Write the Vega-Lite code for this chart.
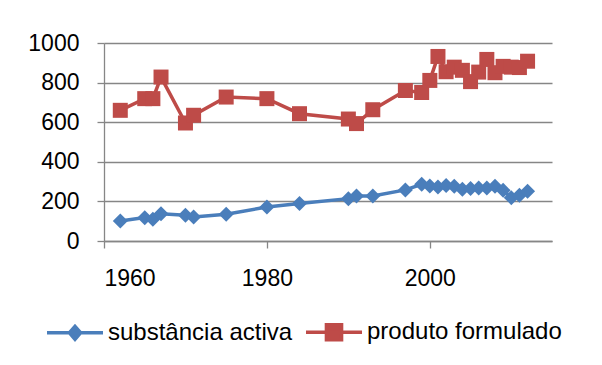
{
  "$schema": "https://vega.github.io/schema/vega-lite/v6.json",
  "autosize": "none",
  "width": 448,
  "height": 198,
  "padding": {"left": 104, "top": 43, "right": 50, "bottom": 124},
  "background": "white",
  "config": {
    "view": {"stroke": null},
    "font": "Liberation Sans",
    "axis": {
      "labelFont": "Liberation Sans",
      "labelFontSize": 23,
      "labelColor": "#000000",
      "domainColor": "#868686",
      "domainWidth": 1.3,
      "tickColor": "#868686",
      "tickWidth": 1.3,
      "tickSize": 7,
      "gridColor": "#868686",
      "gridWidth": 1.3,
      "title": null
    }
  },
  "data": {
    "values": [
      {"year": 1962, "series": "substância activa", "value": 101},
      {"year": 1965, "series": "substância activa", "value": 118},
      {"year": 1966, "series": "substância activa", "value": 110},
      {"year": 1967, "series": "substância activa", "value": 138},
      {"year": 1970, "series": "substância activa", "value": 130},
      {"year": 1971, "series": "substância activa", "value": 121},
      {"year": 1975, "series": "substância activa", "value": 135},
      {"year": 1980, "series": "substância activa", "value": 172},
      {"year": 1984, "series": "substância activa", "value": 189},
      {"year": 1990, "series": "substância activa", "value": 214},
      {"year": 1991, "series": "substância activa", "value": 227},
      {"year": 1993, "series": "substância activa", "value": 227},
      {"year": 1997, "series": "substância activa", "value": 258},
      {"year": 1999, "series": "substância activa", "value": 286},
      {"year": 2000, "series": "substância activa", "value": 278},
      {"year": 2001, "series": "substância activa", "value": 273},
      {"year": 2002, "series": "substância activa", "value": 280},
      {"year": 2003, "series": "substância activa", "value": 276},
      {"year": 2004, "series": "substância activa", "value": 261},
      {"year": 2005, "series": "substância activa", "value": 265},
      {"year": 2006, "series": "substância activa", "value": 268},
      {"year": 2007, "series": "substância activa", "value": 268},
      {"year": 2008, "series": "substância activa", "value": 277},
      {"year": 2009, "series": "substância activa", "value": 256},
      {"year": 2010, "series": "substância activa", "value": 219},
      {"year": 2011, "series": "substância activa", "value": 231},
      {"year": 2012, "series": "substância activa", "value": 251},
      {"year": 1962, "series": "produto formulado", "value": 660},
      {"year": 1965, "series": "produto formulado", "value": 719},
      {"year": 1966, "series": "produto formulado", "value": 719},
      {"year": 1967, "series": "produto formulado", "value": 828},
      {"year": 1970, "series": "produto formulado", "value": 596},
      {"year": 1971, "series": "produto formulado", "value": 635},
      {"year": 1975, "series": "produto formulado", "value": 727},
      {"year": 1980, "series": "produto formulado", "value": 719},
      {"year": 1984, "series": "produto formulado", "value": 643},
      {"year": 1990, "series": "produto formulado", "value": 616},
      {"year": 1991, "series": "produto formulado", "value": 593},
      {"year": 1993, "series": "produto formulado", "value": 663},
      {"year": 1997, "series": "produto formulado", "value": 760},
      {"year": 1999, "series": "produto formulado", "value": 750},
      {"year": 2000, "series": "produto formulado", "value": 811},
      {"year": 2001, "series": "produto formulado", "value": 932},
      {"year": 2002, "series": "produto formulado", "value": 855},
      {"year": 2003, "series": "produto formulado", "value": 878},
      {"year": 2004, "series": "produto formulado", "value": 862},
      {"year": 2005, "series": "produto formulado", "value": 805},
      {"year": 2006, "series": "produto formulado", "value": 853},
      {"year": 2007, "series": "produto formulado", "value": 917},
      {"year": 2008, "series": "produto formulado", "value": 850},
      {"year": 2009, "series": "produto formulado", "value": 882},
      {"year": 2010, "series": "produto formulado", "value": 878},
      {"year": 2011, "series": "produto formulado", "value": 876},
      {"year": 2012, "series": "produto formulado", "value": 908}
    ]
  },
  "encoding": {
    "x": {
      "field": "year",
      "type": "quantitative",
      "scale": {"domain": [1960, 2015], "nice": false, "zero": false},
      "axis": {"values": [1960, 1980, 2000], "grid": false, "labelPadding": 19, "format": "d"}
    },
    "y": {
      "field": "value",
      "type": "quantitative",
      "scale": {"domain": [0, 1000], "nice": false},
      "axis": {"values": [0, 200, 400, 600, 800, 1000], "grid": true, "labelPadding": 18, "domain": true, "format": "d"}
    },
    "color": {
      "field": "series",
      "type": "nominal",
      "scale": {"domain": ["substância activa", "produto formulado"], "range": ["#4A7EBB", "#BE4B48"]},
      "legend": {
        "orient": "none",
        "direction": "horizontal",
        "legendX": -59,
        "legendY": 259,
        "title": null,
        "padding": 0,
        "labelFont": "Liberation Sans",
        "labelFontSize": 24,
        "labelColor": "#000000",
        "labelOffset": 3,
        "columnPadding": 6,
        "symbolSize": 3136,
        "symbolStrokeWidth": 3.5,
        "symbolOpacity": 1,
        "labelLimit": 400,
        "encode": {
          "symbols": {
            "update": {
              "shape": {"signal": "datum.value === 'substância activa' ? 'M-1,0L1,0M0,-0.23L0.2,0L0,0.23L-0.2,0Z' : 'M-1,0L1,0M-0.27,-0.27L0.27,-0.27L0.27,0.27L-0.27,0.27Z'"}
            }
          }
        }
      }
    }
  },
  "layer": [
    {
      "mark": {"type": "line", "strokeWidth": 3.5}
    },
    {
      "mark": {"type": "point", "filled": true, "opacity": 1, "size": 225},
      "encoding": {
        "shape": {
          "condition": {"test": "datum.series === 'substância activa'", "value": "diamond"},
          "value": "square"
        }
      }
    }
  ]
}
